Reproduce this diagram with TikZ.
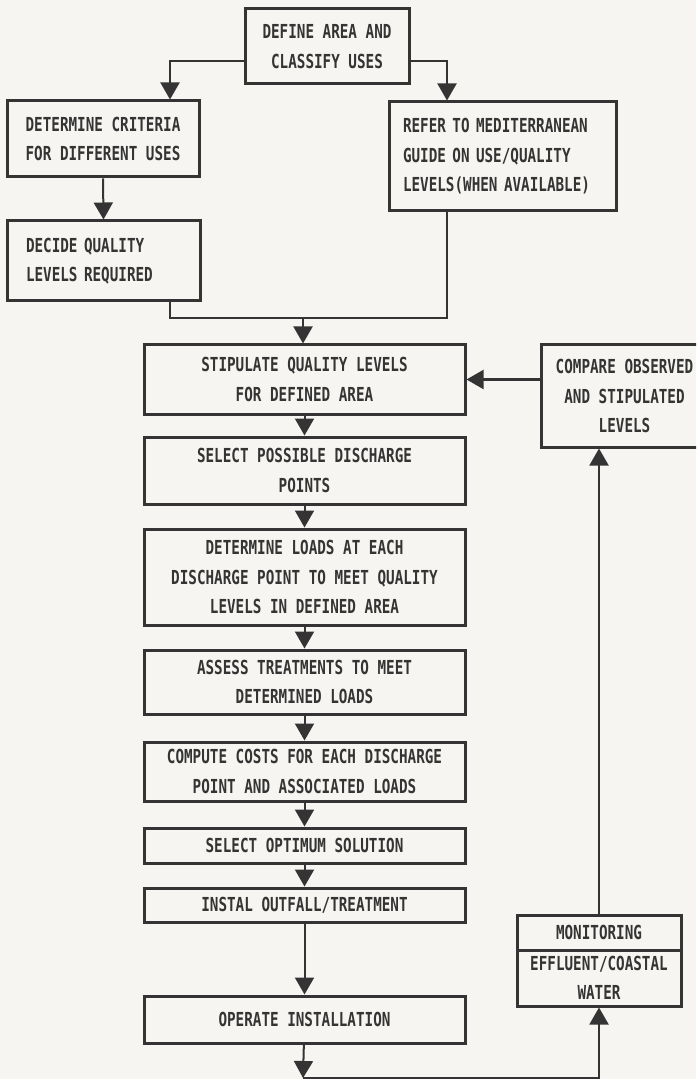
\documentclass[tikz,border=0pt]{standalone}
\usepackage{fontspec}
\newfontfamily\plotfont{DejaVu Sans Mono}[FakeStretch=0.74]
\usetikzlibrary{arrows.meta}
\definecolor{ink}{RGB}{52,52,52}
\definecolor{paper}{RGB}{246,245,241}

\begin{document}
\begin{tikzpicture}[x=0.5pt,y=-0.5pt,
  every node/.style={font=\plotfont\bfseries\fontsize{9.65}{14.75}\selectfont,text=ink},
  bx/.style={draw=ink,line width=1.5pt,inner sep=0pt,align=center},
  lbx/.style={bx,align=left},
  ln/.style={draw=ink,line width=1pt},
  arr/.style={ln,-{Triangle[width=9.5pt,length=8.5pt]}}
]
\clip (0,0) rectangle (696,1079);
\fill[paper] (0,0) rectangle (696,1079);

% top part
\node[bx,minimum width=82pt,minimum height=37.5pt] (define) at (327,46.5) {DEFINE AREA AND\\CLASSIFY USES};
\node[bx,minimum width=96pt,minimum height=38pt] (crit) at (103,139) {DETERMINE CRITERIA\\FOR DIFFERENT USES};
\node[lbx,text width=77.5pt,inner xsep=9.5pt,minimum height=40pt] (decide) at (103.5,261) {DECIDE QUALITY\\LEVELS REQUIRED};
\node[lbx,text width=99.5pt,inner xsep=7pt,minimum height=54.5pt] (refer) at (502.5,156.5) {REFER TO MEDITERRANEAN\\GUIDE ON USE/QUALITY\\LEVELS(WHEN AVAILABLE)};

% main column
\node[bx,minimum width=160.5pt,minimum height=34.5pt] (stip) at (304.5,379.5) {STIPULATE QUALITY LEVELS\\FOR DEFINED AREA};
\node[bx,minimum width=160.5pt,minimum height=33.5pt] (sel) at (304.5,470.5) {SELECT POSSIBLE DISCHARGE\\POINTS};
\node[bx,minimum width=160.5pt,minimum height=48pt] (loads) at (304.5,577) {DETERMINE LOADS AT EACH\\DISCHARGE POINT TO MEET QUALITY\\LEVELS IN DEFINED AREA};
\node[bx,minimum width=160.5pt,minimum height=32pt] (assess) at (304.5,682) {ASSESS TREATMENTS TO MEET\\DETERMINED LOADS};
\node[bx,minimum width=160.5pt,minimum height=29.5pt] (compute) at (304.5,771.5) {COMPUTE COSTS FOR EACH DISCHARGE\\POINT AND ASSOCIATED LOADS};
\node[bx,minimum width=160.5pt,minimum height=17.5pt] (optim) at (304.5,845.5) {SELECT OPTIMUM SOLUTION};
\node[bx,minimum width=160.5pt,minimum height=17pt] (instal) at (304.5,905) {INSTAL OUTFALL/TREATMENT};
\node[bx,minimum width=160.5pt,minimum height=23.5pt] (operate) at (304.5,1019.5) {OPERATE INSTALLATION};

% feedback loop
\node[bx,minimum width=83.5pt,minimum height=51pt] (compare) at (624.5,396) {COMPARE OBSERVED\\AND STIPULATED\\LEVELS};
\node[bx,minimum width=82pt,minimum height=17.5pt] (mon) at (599,932.5) {MONITORING};
\node[bx,minimum width=82pt,minimum height=28pt] (eff) at (599,978) {EFFLUENT/COASTAL\\WATER};

\coordinate (join) at (303,318);
\coordinate (low) at (303,1078);

\draw[arr] ([yshift=-7.25pt]define.west) -| ([xshift=33.5pt]crit.north);
\draw[arr] ([yshift=-7.25pt]define.east) -| ([xshift=-27.75pt]refer.north);
\draw[arr] (crit.south) -- (decide.north);
\draw[ln] ([xshift=33.25pt]decide.south) |- (join);
\draw[ln] ([xshift=-27.75pt]refer.south) |- (join);
\draw[arr] (join) -- (join |- stip.north);

\draw[arr] (stip) -- (sel);
\draw[arr] (sel) -- (loads);
\draw[arr] (loads) -- (assess);
\draw[arr] (assess) -- (compute);
\draw[arr] (compute) -- (optim);
\draw[arr] (optim) -- (instal);
\draw[arr] (instal) -- (operate);

\draw[arr] (operate) -- (low);
\draw[arr] (low) -| (eff.south);
\draw[arr] (mon.north) -- (mon.north |- compare.south);
\draw[arr] (compare.west |- stip.east) -- (stip.east);
\end{tikzpicture}
\end{document}
